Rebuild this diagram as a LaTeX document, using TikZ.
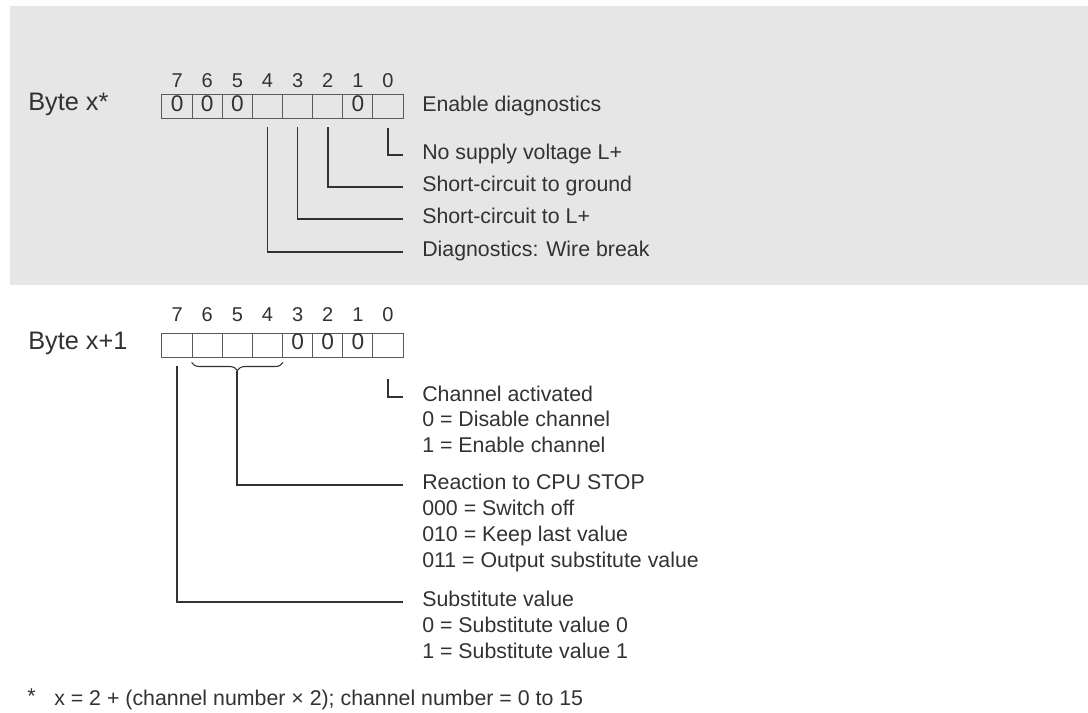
\documentclass[tikz,border=0pt]{standalone}
\usepackage{fontspec}
\setmainfont{Liberation Sans}
\usepackage{tikz}
\usetikzlibrary{calc}
\usetikzlibrary{decorations.pathreplacing}
\definecolor{bggrey}{RGB}{230,230,230}
\definecolor{ink}{RGB}{50,50,50}
\definecolor{boxline}{RGB}{90,90,90}
\tikzset{cell/.style={draw=boxline, line width=0.75pt, minimum width=22.6pt, minimum height=18pt, inner sep=0pt, text=ink, font=\fontsize{17pt}{17pt}\selectfont, text height=0.72em, text depth=0pt}}
\tikzset{bitno/.style={inner sep=0pt, text=ink, font=\fontsize{15pt}{15pt}\selectfont, text height=0.72em, text depth=0pt}}
\tikzset{bytename/.style={anchor=west, inner sep=0pt, text=ink, font=\fontsize{19pt}{20pt}\selectfont, text height=0.72em, text depth=0pt}}
\tikzset{info/.style={anchor=west, inner sep=0pt, text=ink, font=\fontsize{16pt}{18pt}\selectfont, text height=0.72em, text depth=0pt}}
\tikzset{wire/.style={draw=ink, line width=1.3pt}}

\begin{document}
\begin{tikzpicture}[x=0.75pt, y=-0.75pt]       % byte x and byte x+1
    \useasboundingbox (0,0) rectangle (1088,713);
    \fill[bggrey] (10,6) rectangle (1088,285);

    % byte x
    \node[bytename] at (28, 106) (bytex) {Byte x*};
    \foreach \i/\v in {7/0,6/0,5/0,4/{},3/{},2/{},1/0,0/{}} {
        \node[cell] at ({177.06+30.125*(7-\i)}, 107) (u\i) {\v};
        \node[bitno] at ({177.06+30.125*(7-\i)}, 83) (un\i) {\i};
    }
    \node[info] at (422, 107) (endiag) {Enable diagnostics};
    \node[info] at (422, 155) (supply) {No supply voltage L+};
    \node[info] at (422, 187) (gnd) {Short-circuit to ground};
    \node[info] at (422, 219) (lplus) {Short-circuit to L+};
    \node[info] at (422, 252) (wbreak) {Diagnostics: Wire break};

    \draw[wire] ([yshift=-6.5pt]u0.south) |- ([xshift=-14.25pt]supply.west);
    \draw[wire] ([yshift=-6pt]u2.south) |- ([xshift=-14.25pt]gnd.west);
    \draw[wire] ([yshift=-6pt]u3.south) |- ([xshift=-14.25pt]lplus.west);
    \draw[wire] ([yshift=-6pt]u4.south) |- ([xshift=-14.25pt]wbreak.west);

    % byte x+1
    \node[bytename] at (28, 345) (bytexi) {Byte x+1};
    \foreach \i/\v in {7/{},6/{},5/{},4/{},3/0,2/0,1/0,0/{}} {
        \node[cell] at ({177.06+30.125*(7-\i)}, 345) (l\i) {\v};
        \node[bitno] at ({177.06+30.125*(7-\i)}, 317) (ln\i) {\i};
    }
    \node[info] at (422, 397) (chan) {Channel activated};
    \node[info] at (422, 422) (chdis) {0 = Disable channel};
    \node[info] at (422, 448) (chen) {1 = Enable channel};
    \node[info] at (422, 485) (react) {Reaction to CPU STOP};
    \node[info] at (422, 511) (roff) {000 = Switch off};
    \node[info] at (422, 537) (rkeep) {010 = Keep last value};
    \node[info] at (422, 563) (rsub) {011 = Output substitute value};
    \node[info] at (422, 602) (subst) {Substitute value};
    \node[info] at (422, 628) (subnull) {0 = Substitute value 0};
    \node[info] at (422, 654) (subone) {1 = Substitute value 1};

    \draw[draw=ink, line width=0.8pt, decorate, decoration={brace, mirror, amplitude=6pt}]
        ([yshift=-3.75pt]l6.south west) -- ([yshift=-3.75pt]l4.south east);
    \coordinate (tip) at ($(l5.south)+(0,-9.75pt)$);
    \draw[wire] ([yshift=-15.75pt]l0.south) |- ([xshift=-14.25pt]chan.west);
    \draw[wire] (tip) |- ([xshift=-14.25pt]react.west);
    \draw[wire] ([yshift=-6pt]l7.south) |- ([xshift=-14.25pt]subst.west);

    % footnote
    \node[info] at (27, 699) (star) {*};
    \node[info] at (54, 701) (fnote) {x = 2 + (channel number × 2); channel number = 0 to 15};
\end{tikzpicture}
\end{document}
